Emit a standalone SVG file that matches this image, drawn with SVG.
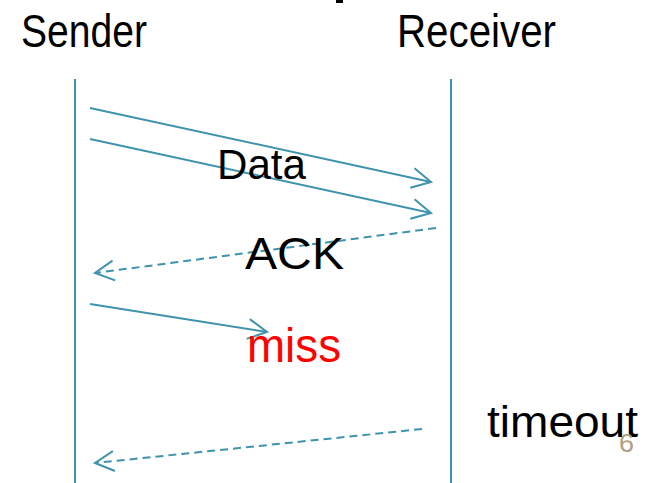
<svg xmlns="http://www.w3.org/2000/svg" width="651" height="483" viewBox="0 0 651 483">
  <style>
    .life { stroke: #3F93AC; stroke-width: 2; fill: none; }
    .msg { stroke: #3F93AC; stroke-width: 2; fill: none; marker-end: url(#chev); }
    .dash { stroke-dasharray: 8 5; }
    .lbl { font-family: "Liberation Sans", Arial, sans-serif; fill: #000; }
  </style>
  <defs>
    <marker id="chev" markerUnits="userSpaceOnUse" viewBox="-22 -12 24 24" refX="0" refY="0" markerWidth="24" markerHeight="24" orient="auto" overflow="visible">
      <path d="M-19,-10 L0,0 L-19,10" fill="none" stroke="#3F93AC" stroke-width="2"/>
    </marker>
  </defs>
  <rect width="651" height="483" fill="#fff"/>
  <rect x="336" y="0" width="7" height="3" fill="#000"/>

  <g id="sender">
    <text class="lbl" x="21" y="47" font-size="47" textLength="126" lengthAdjust="spacingAndGlyphs">Sender</text>
    <line class="life" x1="75" y1="79" x2="75" y2="483"/>
  </g>
  <g id="receiver">
    <text class="lbl" x="397" y="47" font-size="47" textLength="159" lengthAdjust="spacingAndGlyphs">Receiver</text>
    <line class="life" x1="451" y1="79" x2="451" y2="483"/>
  </g>

  <g id="connectors">
    <line class="msg" x1="90" y1="108" x2="431" y2="182"/>
    <line class="msg" x1="90" y1="139" x2="431" y2="213"/>
    <line class="msg dash" x1="436" y1="228" x2="95" y2="273"/>
    <line class="msg" x1="90" y1="304" x2="267" y2="332"/>
    <line class="msg dash" x1="422" y1="429" x2="95" y2="463"/>
  </g>

  <g id="labels">
    <text class="lbl" x="217" y="179" font-size="43" textLength="89" lengthAdjust="spacingAndGlyphs">Data</text>
    <text class="lbl" x="245" y="269" font-size="44" textLength="99" lengthAdjust="spacingAndGlyphs">ACK</text>
    <text class="lbl" x="247" y="362" font-size="48" style="fill:#FF0000" textLength="94" lengthAdjust="spacingAndGlyphs">miss</text>
    <text class="lbl" x="487" y="437" font-size="44" textLength="151" lengthAdjust="spacingAndGlyphs">timeout</text>
    <text class="lbl" x="619" y="452" font-size="25" style="fill:#B09F82" textLength="15" lengthAdjust="spacingAndGlyphs">6</text>
  </g>
</svg>
